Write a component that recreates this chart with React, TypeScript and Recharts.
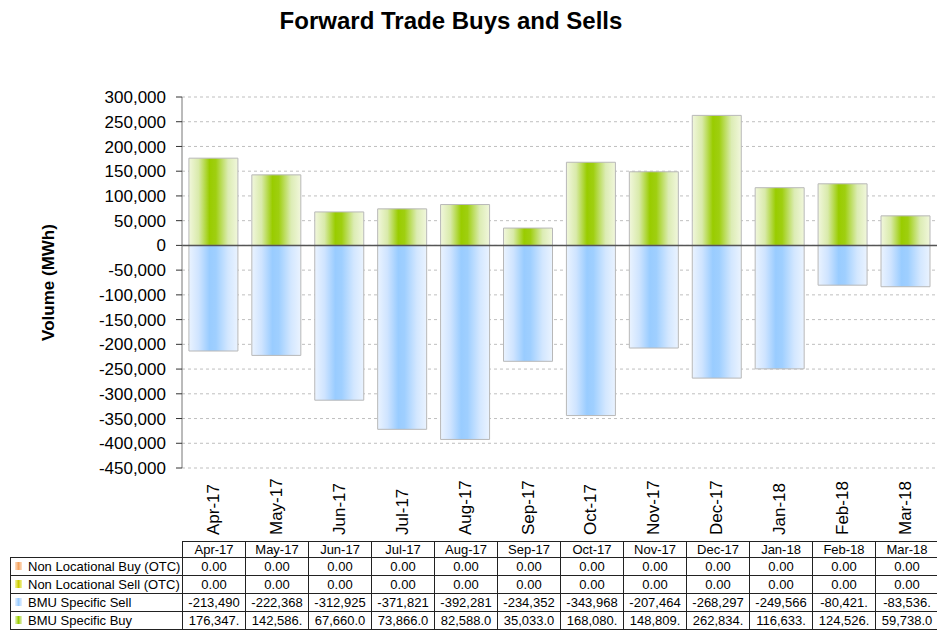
import React from 'react';
import { BarChart, Bar, XAxis, YAxis, CartesianGrid, ReferenceLine } from 'recharts';

const months = ['Apr-17', 'May-17', 'Jun-17', 'Jul-17', 'Aug-17', 'Sep-17', 'Oct-17', 'Nov-17', 'Dec-17', 'Jan-18', 'Feb-18', 'Mar-18'];
const nonLocBuy = [0, 0, 0, 0, 0, 0, 0, 0, 0, 0, 0, 0];
const nonLocSell = [0, 0, 0, 0, 0, 0, 0, 0, 0, 0, 0, 0];
const bmuSell = [-213490, -222368, -312925, -371821, -392281, -234352, -343968, -207464, -268297, -249566, -80421, -83536];
const bmuBuy = [176347, 142586, 67660, 73866, 82588, 35033, 168080, 148809, 262834, 116633, 124526, 59738];
const yTicks = [300000, 250000, 200000, 150000, 100000, 50000, 0, -50000, -100000, -150000, -200000, -250000, -300000, -350000, -400000, -450000];
const seriesNames = ['Non Locational Buy (OTC)', 'Non Locational Sell (OTC)', 'BMU Specific Sell', 'BMU Specific Buy'];
const title = 'Forward Trade Buys and Sells';
const yLabel = 'Volume  (MWh)';

const data = months.map((m, i) => ({ month: m, nlb: nonLocBuy[i], nls: nonLocSell[i], sell: bmuSell[i], buy: bmuBuy[i] }));

const FONT = '"Liberation Sans", Arial, sans-serif';

const fmtCell = (v: number) => {
  if (v === 0) return '0.00';
  const s = v.toLocaleString('en-US', { minimumFractionDigits: 1, maximumFractionDigits: 1 });
  return s.length > 8 ? s.slice(0, 8) : s;
};

const XTick = (props: any) => {
  const { x, payload } = props;
  return (
    <text x={x + 5.5} y={535} transform={`rotate(-90 ${x + 5.5} 535)`} textAnchor="start" fontSize={17} fontFamily={FONT} fill="#000">
      {payload.value}
    </text>
  );
};

const iconBg = [
  'linear-gradient(90deg,#fde0c8,#f4a460,#fde0c8)',
  'linear-gradient(90deg,#f4f4a0,#cccc00,#f4f4a0)',
  'linear-gradient(90deg,#e6f0ff,#99ccff,#e6f0ff)',
  'linear-gradient(90deg,#e8f3c8,#99cc00,#e8f3c8)',
];

const rows = [nonLocBuy, nonLocSell, bmuSell, bmuBuy];

export default function App() {
  const cellBorder = '1px solid #222';
  return (
    <div style={{ position: 'absolute', left: 0, top: 0, width: 937, height: 630, background: '#fff', fontFamily: FONT, overflow: 'hidden' }}>
      <div style={{ position: 'absolute', left: 0, top: 8.7, width: 902, textAlign: 'center', fontSize: 24, lineHeight: '24px', fontWeight: 'bold', color: '#000' }}>
        {title}
      </div>
      <BarChart width={937} height={630} data={data} margin={{ top: 97, right: 0, bottom: 92, left: 0 }} stackOffset="sign" barCategoryGap="11%">
        <defs>
          <linearGradient id="gGreen" x1="0" y1="0" x2="1" y2="0">
            <stop offset="0" stopColor="#f1f7dc" />
            <stop offset="0.2" stopColor="#d9eaaa" />
            <stop offset="0.42" stopColor="#99cc00" />
            <stop offset="0.55" stopColor="#9fcf10" />
            <stop offset="0.8" stopColor="#dcecb4" />
            <stop offset="1" stopColor="#f1f7dc" />
          </linearGradient>
          <linearGradient id="gBlue" x1="0" y1="0" x2="1" y2="0">
            <stop offset="0" stopColor="#eaf3ff" />
            <stop offset="0.2" stopColor="#cfe4ff" />
            <stop offset="0.42" stopColor="#99ccff" />
            <stop offset="0.55" stopColor="#9fcfff" />
            <stop offset="0.8" stopColor="#d3e7ff" />
            <stop offset="1" stopColor="#eaf3ff" />
          </linearGradient>
        </defs>
        <CartesianGrid vertical={false} strokeDasharray="3 3" stroke="#bfbfbf" />
        <XAxis dataKey="month" axisLine={false} tickLine={false} height={70} interval={0} tick={<XTick />} />
        <YAxis
          width={182}
          domain={[-450000, 300000]}
          ticks={yTicks}
          interval={0}
          allowDataOverflow
          tickFormatter={(v: number) => v.toLocaleString('en-US')}
          tick={{ fontSize: 17, fill: '#000', fontFamily: FONT }}
          axisLine={{ stroke: '#777' }}
          tickLine={{ stroke: '#333' }}
          tickSize={6}
          tickMargin={10}
          label={{
            content: (p: any) => {
              const vb = p.viewBox || { y: 97, height: 371 };
              const cy = vb.y + vb.height / 2;
              return (
                <text x={54} y={cy} transform={`rotate(-90 54 ${cy})`} textAnchor="middle" fontSize={17} fontWeight="bold" fontFamily={FONT} fill="#000">
                  {yLabel}
                </text>
              );
            },
          }}
        />
        <Bar dataKey="nlb" name={seriesNames[0]} stackId="a" fill="#f4a460" isAnimationActive={false} />
        <Bar dataKey="nls" name={seriesNames[1]} stackId="a" fill="#cccc00" isAnimationActive={false} />
        <Bar dataKey="sell" name={seriesNames[2]} stackId="a" fill="url(#gBlue)" stroke="#b8b8b8" strokeWidth={1} isAnimationActive={false} />
        <Bar dataKey="buy" name={seriesNames[3]} stackId="a" fill="url(#gGreen)" stroke="#b8b8b8" strokeWidth={1} isAnimationActive={false} />
        <ReferenceLine y={0} stroke="#555" strokeWidth={1.5} />
      </BarChart>
      <table style={{ position: 'absolute', left: 10, top: 541, borderCollapse: 'collapse', tableLayout: 'fixed', width: 928, fontSize: 13, fontFamily: FONT, color: '#000' }}>
        <colgroup>
          <col style={{ width: 172 }} />
          {months.map((m) => (
            <col key={m} style={{ width: 63 }} />
          ))}
        </colgroup>
        <tbody>
          <tr style={{ height: 16 }}>
            <td style={{ padding: 0 }} />
            {months.map((m) => (
              <td key={m} style={{ border: cellBorder, padding: 0, textAlign: 'center', lineHeight: '14px' }}>
                {m}
              </td>
            ))}
          </tr>
          {rows.map((r, ri) => (
            <tr key={ri} style={{ height: 18 }}>
              <td style={{ border: cellBorder, padding: '0 0 0 4px', whiteSpace: 'nowrap', lineHeight: '16px' }}>
                <span style={{ display: 'inline-block', width: 7, height: 8, background: iconBg[ri], marginRight: 6, verticalAlign: 'middle', position: 'relative', top: -1 }} />
                {seriesNames[ri]}
              </td>
              {r.map((v, ci) => (
                <td key={ci} style={{ border: cellBorder, padding: 0, textAlign: 'center', whiteSpace: 'nowrap', overflow: 'hidden', lineHeight: '16px' }}>
                  {fmtCell(v)}
                </td>
              ))}
            </tr>
          ))}
        </tbody>
      </table>
    </div>
  );
}
